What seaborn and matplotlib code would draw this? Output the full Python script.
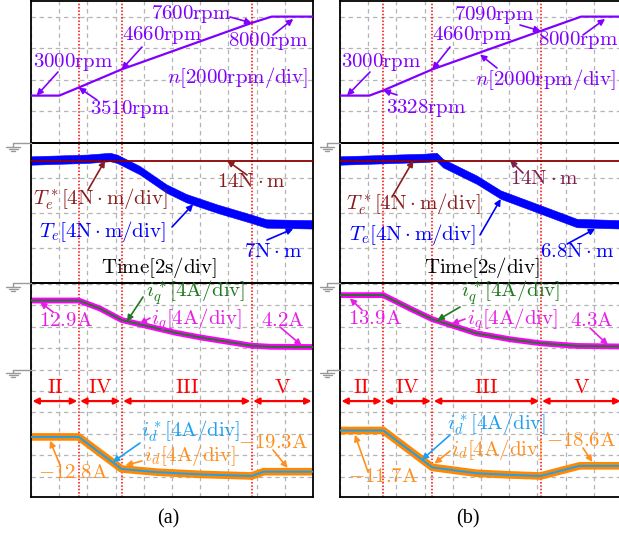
import numpy as np
import matplotlib
matplotlib.use("Agg")
import matplotlib.pyplot as plt
from matplotlib.lines import Line2D
import seaborn as sns

# -------------------- data --------------------
# time axis: 10 divisions of 2 s
time_lim = [0, 20]

# speed n (rpm)
speed_t_a = [0, 2.0, 3.38, 6.43, 15.65, 17.07, 20]
speed_a = [3000, 3000, 3510, 4660, 7600, 8000, 8000]
speed_t_b = [0, 2.08, 3.07, 6.55, 14.23, 17.1, 20]
speed_b = [3000, 3000, 3328, 4660, 7090, 8000, 8000]

# torque reference Te* and measured torque Te (N·m)
te_ref_t = [0, 20]
te_ref_a = [14, 14]
te_ref_b = [14, 14]
te_t_a = [0, 2, 4, 5.6, 6.1, 7.7, 9.6, 11.0, 13.2, 15.5, 16.7, 20]
te_a = [14.0, 14.1, 14.2, 14.4, 14.2, 12.9, 10.8, 9.7, 8.5, 7.4, 6.8, 6.7]
te_t_b = [0, 2, 4, 6.0, 6.86, 7.3, 9.7, 11.4, 14.4, 16.8, 20]
te_b = [14.0, 14.1, 14.2, 14.3, 14.4, 13.7, 11.8, 10.1, 8.3, 6.85, 6.7]

# q-axis current iq (A)
iq_t_a = [0, 3.38, 4.89, 6.43, 8.44, 10.2, 12.0, 13.9, 15.65, 17.0, 20]
iq_a = [12.9, 12.9, 11.4, 9.25, 8.0, 6.9, 6.0, 5.2, 4.45, 4.25, 4.2]
iq_t_b = [0, 3.07, 4.96, 6.55, 9.7, 12.06, 14.23, 16.8, 20]
iq_b = [13.9, 13.9, 11.4, 9.4, 6.75, 5.65, 4.9, 4.4, 4.3]

# d-axis current id (A)
id_t_a = [0, 3.38, 6.43, 9.0, 12.0, 15.65, 16.5, 20]
id_a = [-12.6, -12.6, -18.6, -19.2, -19.6, -19.9, -19.1, -19.1]
id_t_b = [0, 3.07, 6.55, 9.7, 12.06, 14.23, 17.0, 20]
id_b = [-11.4, -11.4, -18.3, -19.4, -19.7, -19.9, -18.0, -18.0]

# operating-region boundaries (s) and names
bounds_a = [3.38, 6.43, 15.65]
bounds_b = [3.07, 6.55, 14.23]
region_names = ["II", "IV", "III", "V"]

# -------------------- style --------------------
sns.set_theme(style="white")
plt.rcParams["font.family"] = ["DejaVu Serif"]
plt.rcParams["mathtext.fontset"] = "cm"

W, H = 619, 535
fig = plt.figure(figsize=(W / 100, H / 100), dpi=100)
fig.patch.set_facecolor("white")

FS = 15
C_N = "#8000ff"
C_TREF = "#8b0000"
C_TREF_TXT = "#8b1c1c"
C_TE = "#0000ff"
C_IQ = "#ff00ff"
C_IQ_TXT = "#e61ee6"
C_IQREF = "#1f7a1f"
C_ID = "#ff8800"
C_ID_TXT = "#ff9020"
C_IDREF = "#1ea0f0"
C_REG = "#ff0000"


def fx(x):
    return x / W


def fy(y):
    return 1 - y / H


def rect(x0, y0, w, h):
    return [x0 / W, 1 - (y0 + h) / H, w / W, h / H]


def style(ax, ylim, yticks):
    ax.set_xlim(*time_lim)
    ax.set_ylim(*ylim)
    ax.set_xticks(np.arange(0, 21, 2))
    ax.set_yticks(yticks)
    ax.tick_params(length=0, labelbottom=False, labelleft=False)
    ax.grid(True, color="#b4b4b4", linestyle=(0, (3.5, 3)), linewidth=0.9)
    ax.set_facecolor("none")
    for s in ax.spines.values():
        s.set_color("black")
        s.set_linewidth(1.3)
    ax.set_xlabel("")
    ax.set_ylabel("")


def ground(xc, xr, y0):
    segs = [((xc, xr), (y0, y0)), ((xc, xc), (y0, y0 + 3.5)),
            ((xc - 7, xc + 7), (y0 + 3.5, y0 + 3.5)),
            ((xc - 4.5, xc + 4.5), (y0 + 5.5, y0 + 5.5)),
            ((xc - 2, xc + 2), (y0 + 7.5, y0 + 7.5))]
    for xs, ys in segs:
        fig.add_artist(Line2D([fx(v) for v in xs], [fy(v) for v in ys],
                              transform=fig.transFigure, color="#999999", lw=1.0))


def label(ax, text, pos, color, start=None, target=None, ha="center"):
    ax.text(fx(pos[0]), fy(pos[1]), text, transform=fig.transFigure,
            color=color, fontsize=FS, ha=ha, va="center")
    if start is not None:
        ax.annotate("", xy=target, xycoords="data",
                    xytext=(fx(start[0]), fy(start[1])), textcoords="figure fraction",
                    arrowprops=dict(arrowstyle="-|>", color=color, lw=1.2,
                                    shrinkA=0, shrinkB=0, mutation_scale=9),
                    annotation_clip=False)


def column(x0, gxc, st, sv, tet, tev, tr, iqt, iqv, idt, idv, bounds, labels, caption, cap_x):
    ax_n = fig.add_axes(rect(x0, 0.5, 282, 142.5))
    ax_t = fig.add_axes(rect(x0, 143, 282, 140))
    ax_i = fig.add_axes(rect(x0, 283, 282, 214))
    style(ax_n, (0, 9020), np.arange(2000, 9000, 2000))
    style(ax_t, (0, 16), [4, 8, 12])
    style(ax_i, (-23.83, 16.17), np.arange(-20, 17, 4))
    for ax in (ax_n, ax_t, ax_i):
        for b in bounds:
            ax.axvline(b, color=C_REG, linestyle=(0, (1, 1.2)), lw=1.1, zorder=1.5)

    # speed
    sns.lineplot(x=st, y=sv, ax=ax_n, color=C_N, linewidth=1.6, zorder=3)
    # torque
    tev = np.array(tev)
    ax_t.fill_between(tet, tev - 0.48, tev + 0.48, color=C_TE, lw=0.4, zorder=2)
    sns.lineplot(x=te_ref_t, y=tr, ax=ax_t, color=C_TREF, linewidth=1.3, zorder=3)
    # currents
    sns.lineplot(x=iqt, y=iqv, ax=ax_i, color=C_IQ, linewidth=4.2, zorder=2)
    sns.lineplot(x=iqt, y=iqv, ax=ax_i, color=C_IQREF, linewidth=1.4, zorder=3)
    sns.lineplot(x=idt, y=idv, ax=ax_i, color=C_ID, linewidth=5.5, zorder=2)
    sns.lineplot(x=idt, y=idv, ax=ax_i, color=C_IDREF, linewidth=1.4, zorder=3)

    # operating regions
    edges = [time_lim[0]] + list(bounds) + [time_lim[1]]
    for k, name in enumerate(region_names):
        a, b = edges[k], edges[k + 1]
        ax_i.text((a + b) / 2, -3.3, r"$\mathrm{%s}$" % name, color=C_REG,
                  fontsize=FS, ha="center", va="center")
        ax_i.annotate("", xy=(b, -5.9), xytext=(a, -5.9),
                      arrowprops=dict(arrowstyle="<|-|>", color=C_REG, lw=1.6,
                                      shrinkA=1, shrinkB=1, mutation_scale=9))

    axes = {"n": ax_n, "t": ax_t, "i": ax_i}
    for sec, text, pos, color, start, target, ha in labels:
        label(axes[sec], text, pos, color, start, target, ha)

    for y0 in (143, 283, 369.5):
        ground(gxc, x0, y0)

    fig.text(fx(cap_x), fy(519), caption, fontfamily="Liberation Serif",
             fontsize=14.5, ha="center", va="center", color="black")


labels_a = [
    ("n", r"$3000\mathrm{rpm}$", (73, 62), C_N, (58, 72), (0.4, 3000), "center"),
    ("n", r"$3510\mathrm{rpm}$", (130, 109), C_N, (97, 100), (3.38, 3510), "center"),
    ("n", r"$4660\mathrm{rpm}$", (162, 35), C_N, (142, 47), (6.43, 4660), "center"),
    ("n", r"$7600\mathrm{rpm}$", (191, 14), C_N, (230, 17), (15.65, 7600), "center"),
    ("n", r"$8000\mathrm{rpm}$", (268, 41), C_N, (273, 35), (18.6, 7850), "center"),
    ("n", r"$n[2000\mathrm{rpm/div}]$", (238, 78), C_N, None, None, "center"),
    ("t", r"$14\mathrm{N}\cdot\mathrm{m}$", (251, 181), C_TREF_TXT, (247, 175), (13.9, 14), "center"),
    ("t", r"$T_e^*[4\mathrm{N}\cdot\mathrm{m/div}]$", (100, 199), C_TREF_TXT, (88, 190), (5.25, 14), "center"),
    ("t", r"$T_e[4\mathrm{N}\cdot\mathrm{m/div}]$", (102, 231), C_TE, (172, 227), (11.5, 9.0), "center"),
    ("t", r"$7\mathrm{N}\cdot\mathrm{m}$", (273, 251), C_TE, (267, 240), (18.6, 6.2), "center"),
    ("t", r"$\mathrm{Time}[2\mathrm{s/div}]$", (159, 268), "black", None, None, "center"),
    ("i", r"$i_q^*[4\mathrm{A/div}]$", (196, 293), C_IQREF, (143, 297), (6.8, 9.0), "center"),
    ("i", r"$i_q[4\mathrm{A/div}]$", (196, 320), C_IQ_TXT, (150, 318), (7.7, 8.5), "center"),
    ("i", r"$12.9\mathrm{A}$", (66, 320), C_IQ_TXT, (53, 312), (0.64, 12.6), "center"),
    ("i", r"$4.2\mathrm{A}$", (283, 320), C_IQ_TXT, (280, 327), (19.2, 4.5), "center"),
    ("i", r"$i_d^*[4\mathrm{A/div}]$", (191, 431), C_IDREF, (140, 443), (5.8, -17.3), "center"),
    ("i", r"$i_d[4\mathrm{A/div}]$", (190, 456), C_ID_TXT, (142, 461), (6.7, -17.9), "center"),
    ("i", r"$-12.8\mathrm{A}$", (73, 473), C_ID_TXT, (60, 465), (1.35, -13.3), "center"),
    ("i", r"$-19.3\mathrm{A}$", (273, 443), C_ID_TXT, (273, 450), (18.2, -18.4), "center"),
]

labels_b = [
    ("n", r"$3000\mathrm{rpm}$", (381, 62), C_N, (370, 72), (0.5, 3000), "center"),
    ("n", r"$3328\mathrm{rpm}$", (426, 108), C_N, (397, 95), (3.07, 3328), "center"),
    ("n", r"$4660\mathrm{rpm}$", (472, 35), C_N, (450, 47), (6.55, 4660), "center"),
    ("n", r"$7090\mathrm{rpm}$", (494, 15), C_N, (520, 25), (14.23, 7090), "center"),
    ("n", r"$8000\mathrm{rpm}$", (578, 40), C_N, (583, 35), (18.8, 7850), "center"),
    ("n", r"$n[2000\mathrm{rpm/div}]$", (546, 79), C_N, (497, 68), (9.93, 5600), "center"),
    ("t", r"$14\mathrm{N}\cdot\mathrm{m}$", (544, 179), "#7f1f4f", (523, 173), (12.06, 14), "center"),
    ("t", r"$T_e^*[4\mathrm{N}\cdot\mathrm{m/div}]$", (413, 204), C_TREF_TXT, (392, 197), (5.2, 14), "center"),
    ("t", r"$T_e[4\mathrm{N}\cdot\mathrm{m/div}]$", (412, 235), C_TE, (480, 235), (11.4, 9.6), "center"),
    ("t", r"$6.8\mathrm{N}\cdot\mathrm{m}$", (540, 251), C_TE, (567, 244), (18.1, 6.2), "left"),
    ("t", r"$\mathrm{Time}[2\mathrm{s/div}]$", (482, 268), "black", None, None, "center"),
    ("i", r"$i_q^*[4\mathrm{A/div}]$", (511, 293), C_IQREF, (460, 307), (6.9, 9.2), "center"),
    ("i", r"$i_q[4\mathrm{A/div}]$", (512, 320), C_IQ_TXT, (465, 319), (7.9, 8.5), "center"),
    ("i", r"$13.9\mathrm{A}$", (375, 318), C_IQ_TXT, (362, 310), (0.7, 13.3), "center"),
    ("i", r"$4.3\mathrm{A}$", (592, 321), C_IQ_TXT, (590, 328), (19.0, 4.6), "center"),
    ("i", r"$i_d^*[4\mathrm{A/div}]$", (497, 424), C_IDREF, (450, 435), (5.8, -16.9), "center"),
    ("i", r"$i_d[4\mathrm{A/div}]$", (497, 449), C_ID_TXT, (450, 451), (6.7, -17.6), "center"),
    ("i", r"$-11.7\mathrm{A}$", (383, 477), C_ID_TXT, (368, 472), (1.06, -12.2), "center"),
    ("i", r"$-18.6\mathrm{A}$", (581, 441), C_ID_TXT, (583, 448), (17.9, -17.3), "center"),
]

column(31, 13, speed_t_a, speed_a, te_t_a, te_a, te_ref_a, iq_t_a, iq_a,
       id_t_a, id_a, bounds_a, labels_a, "(a)", 168)
column(340, 327, speed_t_b, speed_b, te_t_b, te_b, te_ref_b, iq_t_b, iq_b,
       id_t_b, id_b, bounds_b, labels_b, "(b)", 468)

fig.savefig("out.png", dpi=100, facecolor="white")
